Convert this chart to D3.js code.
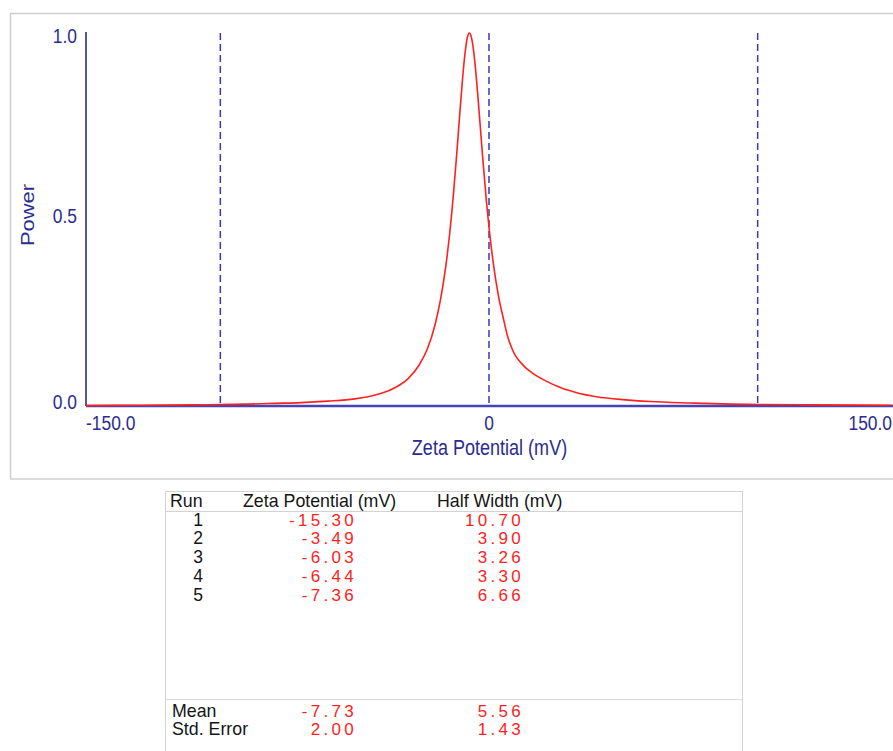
<!DOCTYPE html>
<html>
<head>
<meta charset="utf-8">
<script src="https://cdn.jsdelivr.net/npm/d3@7"></script>
<style>
  html, body { margin: 0; padding: 0; background: #ffffff; }
  svg { display: block; }
</style>
</head>
<body>
<script>
// Zeta potential distribution (mV) and its normalised power
const zeta  = [-150, -130, -110, -100, -90, -80, -70, -60, -50, -45, -40, -35, -30, -26, -23, -20, -18, -16, -14, -12, -10, -9, -8, -7.3,
               -6.5, -5.5, -4, -2.5, -1, 0, 1.5, 3.5, 5.5, 7, 8.5, 10, 12, 14, 16, 21.5, 27, 33, 40, 50, 60, 75, 90, 100, 120, 150];
const power = [0.001, 0.002, 0.003, 0.004, 0.005, 0.007, 0.009, 0.013, 0.019, 0.025, 0.034, 0.049, 0.074, 0.110, 0.152, 0.220, 0.287, 0.379, 0.507, 0.677, 0.864, 0.941, 0.990, 1.000,
               0.987, 0.938, 0.818, 0.680, 0.552, 0.479, 0.388, 0.296, 0.230, 0.185, 0.155, 0.133, 0.115, 0.100, 0.089, 0.066, 0.048, 0.035, 0.025, 0.017, 0.012, 0.008, 0.005, 0.004, 0.003, 0.002];

// Reference markers (dashed)
const markerLines = [-100, 0, 100];

// Axis ticks
const xTicks = [-150, 0, 150];
const xTickLabels = ["-150.0", "0", "150.0"];
const yTicks = [0, 0.5, 1.0];
const yTickLabels = ["0.0", "0.5", "1.0"];

// Results table
const runs = ["1", "2", "3", "4", "5"];
const runZeta = ["-15.30", "-3.49", "-6.03", "-6.44", "-7.36"];
const runHalfWidth = ["10.70", "3.90", "3.26", "3.30", "6.66"];
const summaryLabels = ["Mean", "Std. Error"];
const summaryZeta = ["-7.73", "2.00"];
const summaryHalfWidth = ["5.56", "1.43"];

const W = 893, H = 751;
const axisBlue = "#2b2b92";
const sans = "'Liberation Sans', Arial, sans-serif";

const svg = d3.select("body").append("svg").attr("width", W).attr("height", H);

// Condensed text: horizontally compressed Liberation Sans
function narrowText(parent, px, py, str, size, anchor, sx) {
  const g = parent.append("g").attr("transform", `translate(${px},${py}) scale(${sx},1)`);
  return g.append("text")
    .attr("x", 0).attr("y", 0)
    .attr("text-anchor", anchor)
    .attr("font-family", sans).attr("font-size", size)
    .attr("fill", axisBlue)
    .text(str);
}

// Chart panel frame
svg.append("rect")
  .attr("x", 10.5).attr("y", 13.5).attr("width", 900).attr("height", 465.5)
  .attr("fill", "none").attr("stroke", "#cfcfcf").attr("stroke-width", 1.5);

const x = d3.scaleLinear().domain([-150, 150]).range([86, 892]);
const y = d3.scaleLinear().domain([0, 1]).range([406, 33]);

// Dashed markers
svg.append("g").selectAll("line").data(markerLines).join("line")
  .attr("x1", d => x(d)).attr("x2", d => x(d))
  .attr("y1", y(1)).attr("y2", y(0))
  .attr("stroke", "#3a3ab4").attr("stroke-width", 1.5)
  .attr("stroke-dasharray", "7,4");

// Axis lines
svg.append("line")
  .attr("x1", x(-150)).attr("x2", x(-150)).attr("y1", y(1) - 1).attr("y2", y(0))
  .attr("stroke", "#1c1c88").attr("stroke-width", 1.5);
svg.append("line")
  .attr("x1", x(-150)).attr("x2", W).attr("y1", y(0)).attr("y2", y(0))
  .attr("stroke", "#4444b4").attr("stroke-width", 2.5);

// Distribution curve
const pts = zeta.map((z, i) => [z, power[i]]);
svg.append("path")
  .datum(pts)
  .attr("fill", "none")
  .attr("stroke", "#ff2020")
  .attr("stroke-width", 1.6)
  .attr("stroke-linejoin", "round")
  .attr("d", d3.line().curve(d3.curveMonotoneX).x(d => x(d[0])).y(d => y(d[1])));

// Y tick labels
const yLab = svg.append("g");
yTicks.forEach((v, i) => {
  narrowText(yLab, 77, Math.max(y(v) + 3, 43), yTickLabels[i], 20, "end", 0.87);
});

// X tick labels
const xLab = svg.append("g");
xTicks.forEach((v, i) => {
  const last = i === xTicks.length - 1;
  const anchor = i === 0 ? "start" : (last ? "end" : "middle");
  const px = last ? W - 1 : x(v);
  narrowText(xLab, px, 430, xTickLabels[i], 20, anchor, 0.87);
});

// Axis titles
narrowText(svg, 489.5, 455, "Zeta Potential (mV)", 22, "middle", 0.82);

svg.append("text")
  .attr("transform", "translate(34,215) rotate(-90)")
  .attr("x", -31)
  .attr("font-family", sans).attr("font-size", 19)
  .attr("textLength", 62).attr("lengthAdjust", "spacingAndGlyphs")
  .attr("fill", axisBlue)
  .text("Power");

// Results table frame
const tbl = svg.append("g");
tbl.append("rect")
  .attr("x", 165.5).attr("y", 491.5).attr("width", 577).attr("height", 320)
  .attr("fill", "none").attr("stroke", "#d2d2d2").attr("stroke-width", 1);
tbl.append("line").attr("x1", 165.5).attr("x2", 742.5).attr("y1", 511.5).attr("y2", 511.5)
  .attr("stroke", "#d2d2d2");
tbl.append("line").attr("x1", 165.5).attr("x2", 742.5).attr("y1", 699.5).attr("y2", 699.5)
  .attr("stroke", "#dcdcdc");

const headerY = 507;
[["Run", 170], ["Zeta Potential (mV)", 243], ["Half Width (mV)", 437]].forEach(([t, px]) => {
  tbl.append("text").attr("x", px).attr("y", headerY)
    .attr("font-family", sans).attr("font-size", 17.8).attr("fill", "#151515").text(t);
});

const rowY = i => 525.5 + i * 18.9;
const valueText = (sel, px) => sel
  .attr("text-anchor", "end")
  .attr("font-family", sans).attr("font-size", 17)
  .attr("letter-spacing", 3.3)
  .attr("fill", "#ff2222")
  .attr("x", px);

tbl.append("g").selectAll("text").data(runs).join("text")
  .attr("x", 203).attr("y", (d, i) => rowY(i))
  .attr("text-anchor", "end")
  .attr("font-family", sans).attr("font-size", 17.5).attr("fill", "#151515")
  .text(d => d);

tbl.append("g").selectAll("text").data(runZeta).join("text")
  .call(valueText, 357).attr("y", (d, i) => rowY(i)).text(d => d);
tbl.append("g").selectAll("text").data(runHalfWidth).join("text")
  .call(valueText, 524).attr("y", (d, i) => rowY(i)).text(d => d);

const sumY = i => 716.5 + i * 18.9;
tbl.append("g").selectAll("text").data(summaryLabels).join("text")
  .attr("x", 172).attr("y", (d, i) => sumY(i))
  .attr("font-family", sans).attr("font-size", 17.8).attr("fill", "#151515")
  .text(d => d);
tbl.append("g").selectAll("text").data(summaryZeta).join("text")
  .call(valueText, 357).attr("y", (d, i) => sumY(i)).text(d => d);
tbl.append("g").selectAll("text").data(summaryHalfWidth).join("text")
  .call(valueText, 524).attr("y", (d, i) => sumY(i)).text(d => d);
</script>
</body>
</html>
